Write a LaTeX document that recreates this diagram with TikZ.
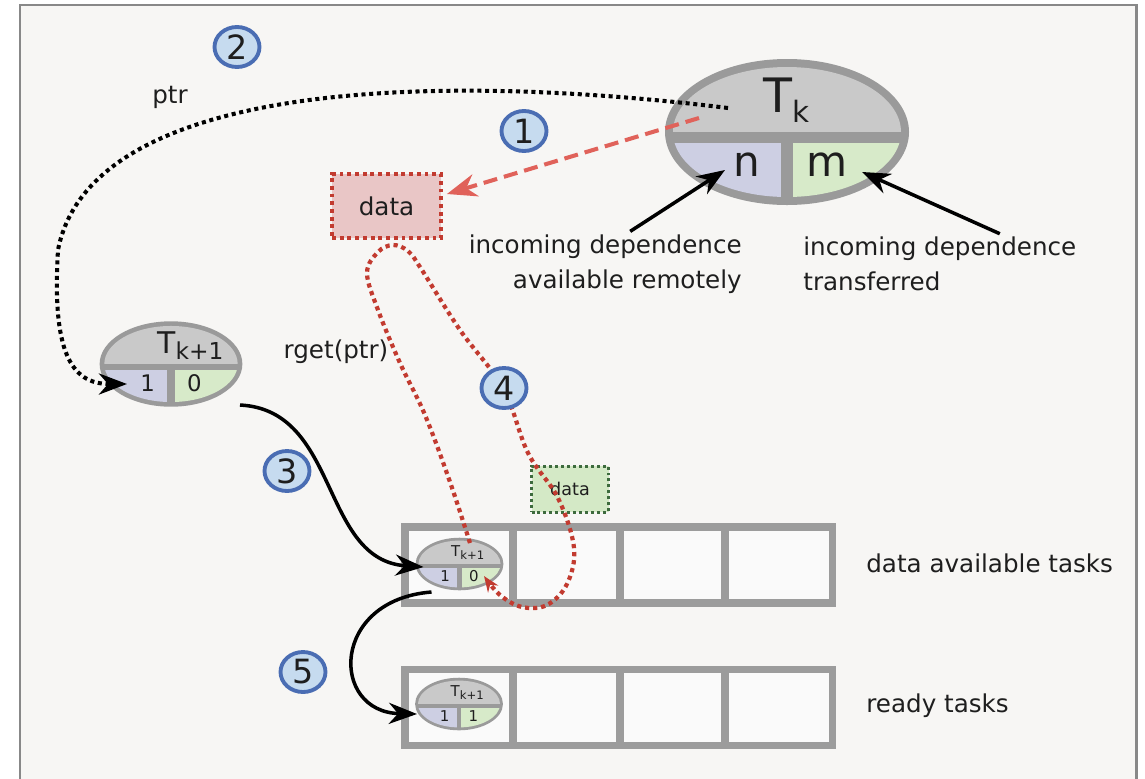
\documentclass[tikz,border=0pt]{standalone}
\usepackage{fontspec}
\setmainfont{DejaVu Sans}
\usetikzlibrary{arrows.meta,calc,shapes.geometric}
\definecolor{bgc}{HTML}{F7F6F4}
\definecolor{framec}{HTML}{888888}
\definecolor{tkborder}{HTML}{9A9A9A}
\definecolor{tktop}{HTML}{C9C9C9}
\definecolor{tklav}{HTML}{CDCFE3}
\definecolor{tkgrn}{HTML}{D7EAC9}
\definecolor{rowc}{HTML}{9C9C9C}
\definecolor{cellf}{HTML}{FAFAFA}
\definecolor{numf}{HTML}{C6DBEF}
\definecolor{numb}{HTML}{4A6DB3}
\definecolor{reddot}{HTML}{C23B30}
\definecolor{reddash}{HTML}{E0625A}
\definecolor{datafill}{HTML}{E9C6C6}
\definecolor{greenfill}{HTML}{D4E9C6}
\definecolor{greenb}{HTML}{3D6B3D}
\definecolor{txt}{HTML}{1E1E1E}
\newcommand\taskell[8]{%
  \begin{scope}[shift={#2}, scale=#3]
    \coordinate (#1) at (0,0);
    \fill[tkborder] (0,0) ellipse (122 and 73);
    \begin{scope}
      \clip (0,0) ellipse (114 and 65);
      \fill[tktop] (-130,-80) rectangle (130,0);
      \fill[tklav] (-130,11) rectangle (-6,80);
      \fill[tkgrn] (6,11) rectangle (130,80);
    \end{scope}
    \node[font=#4, text=txt, anchor=west, inner sep=0pt] (#1-t) at (-24,-32) {#5};
    \node[font=#6, text=txt, inner sep=0pt] (#1-n) at (-40,33) {#7};
    \node[font=#6, text=txt, inner sep=0pt] (#1-m) at (40,33) {#8};
  \end{scope}}
\tikzset{
  numc/.style={ellipse, draw=numb, fill=numf, line width=2.2pt, minimum width=0.9cm,
    minimum height=0.8cm, inner sep=0pt, text=txt, font=\fontsize{19}{22}\selectfont},
  lbl/.style={font=\fontsize{14}{19.8}\selectfont, text=txt, inner sep=0pt},
  rowbox/.style={draw=rowc, line width=4pt, fill=cellf},
  rowline/.style={draw=rowc, line width=4pt},
  blackarrow/.style={draw=black, line width=2pt, -{Stealth[length=16pt, width=12pt]}},
  blackdot/.style={draw=black, line width=2.3pt, dash pattern=on 2.3pt off 2.1pt,
    -{Stealth[length=16pt, width=12pt]}},
  reddashed/.style={draw=reddash, line width=2.3pt, dash pattern=on 8pt off 4pt,
    -{Stealth[length=17pt, width=13pt]}},
  reddotted/.style={draw=reddot, line width=2.4pt, dash pattern=on 2.4pt off 2.2pt,
    -{Stealth[length=9pt, width=7pt]}},
}
\begin{document}
\begin{tikzpicture}[x=0.02cm, y=-0.02cm]
\useasboundingbox (0,0) rectangle (1145,778);
\fill[white] (0,0) rectangle (1145,778);
\draw[framec, line width=1.7pt, fill=bgc] (20,5) rectangle (1136,800);

% rows
\draw[rowbox] (405,527) rectangle (832,603);
\draw[rowline] (513,527) -- (513,603);
\draw[rowline] (620,527) -- (620,603);
\draw[rowline] (725,527) -- (725,603);
\draw[rowbox] (405,669) rectangle (832,745);
\draw[rowline] (513,669) -- (513,745);
\draw[rowline] (620,669) -- (620,745);
\draw[rowline] (725,669) -- (725,745);

% tasks
\taskell{tk}{(787,132)}{1}{\fontsize{27}{30}\selectfont}{T\raisebox{-0.21em}{\scalebox{0.62}{k}}}{\fontsize{24}{28}\selectfont}{n}{m}
\taskell{tkl}{(171,364)}{0.585}{\fontsize{17}{20}\selectfont}{T\raisebox{-0.2em}{\scalebox{0.78}{k+1}}}{\fontsize{13}{16}\selectfont}{1}{0}
\taskell{tkd}{(459.5,564)}{0.36}{\fontsize{8.5}{10}\selectfont}{T\raisebox{-0.2em}{\scalebox{0.78}{k+1}}}{\fontsize{8.5}{10}\selectfont}{1}{0}
\taskell{tkr}{(459,704)}{0.36}{\fontsize{8.5}{10}\selectfont}{T\raisebox{-0.2em}{\scalebox{0.78}{k+1}}}{\fontsize{8.5}{10}\selectfont}{1}{1}

% data boxes
\node[draw=reddot, fill=datafill, line width=2.2pt, dash pattern=on 2.2pt off 2.2pt,
  minimum width=2.18cm, minimum height=1.28cm, inner sep=0pt, text=txt,
  font=\fontsize{14}{16}\selectfont] (data) at (386.5,206) {data};
\node[draw=greenb, fill=greenfill, line width=1.7pt, dash pattern=on 1.7pt off 1.7pt,
  minimum width=1.54cm, minimum height=0.92cm, inner sep=0pt, text=txt,
  font=\fontsize{10}{12}\selectfont] (gdata) at (570,489) {data};

% labels
\node[lbl, align=right, anchor=east] (lremote) at (742,264) {incoming dependence\\available remotely};
\node[lbl, align=left, anchor=west] (ltrans) at (803,264) {incoming dependence\\transferred};
\node[lbl, anchor=west] (ldat) at (866,563) {data available tasks};
\node[lbl, anchor=west] (lready) at (866,706) {ready tasks};
\node[lbl] (lrget) at (336,352) {rget(ptr)};
\node[lbl] (lptr) at (170,97) {ptr};

% connectors
\draw[reddashed] ($(tk)+(-88,-14)$) -- ($(data.east)+(4,-12)$);
\draw[blackdot] ($(tk)+(-59,-24)$) .. controls (420,70) and (90,85) .. (58,250)
  .. controls (52,350) and (70,384) .. ($(tkl)+(-44,20)$);
\draw[blackarrow] ($(lremote.north)+(25,-3)$) -- ($(tk)+(-62,38)$);
\draw[blackarrow] ($(ltrans.north)+(60,-3)$) -- ($(tk)+(75,40)$);
\draw[blackarrow] ($(tkl)+(69,41)$) .. controls (340,410) and (320,560) .. ($(tkd)+(-36,3)$);
\draw[blackarrow] ($(tkd)+(-28,28)$) .. controls (330,600) and (330,712) .. ($(tkr)+(-42,10)$);
\draw[reddotted] plot[smooth, tension=0.6] coordinates {(470,543) (450,482) (425,415) (400,363)
  (378,310) (367,273) (378,252) (393,245) (408,251) (420,267) (460,330) (503,388) (528,453)
  (558,498) (574,548) (567,584) (547,605) (522,607) (500,595) (484,576)};

% numbers
\node[numc] (c1) at (524,131) {1};
\node[numc] (c2) at (237,47) {2};
\node[numc] (c3) at (287,471) {3};
\node[numc] (c4) at (504,388) {4};
\node[numc] (c5) at (303,672) {5};
\end{tikzpicture}
\end{document}
